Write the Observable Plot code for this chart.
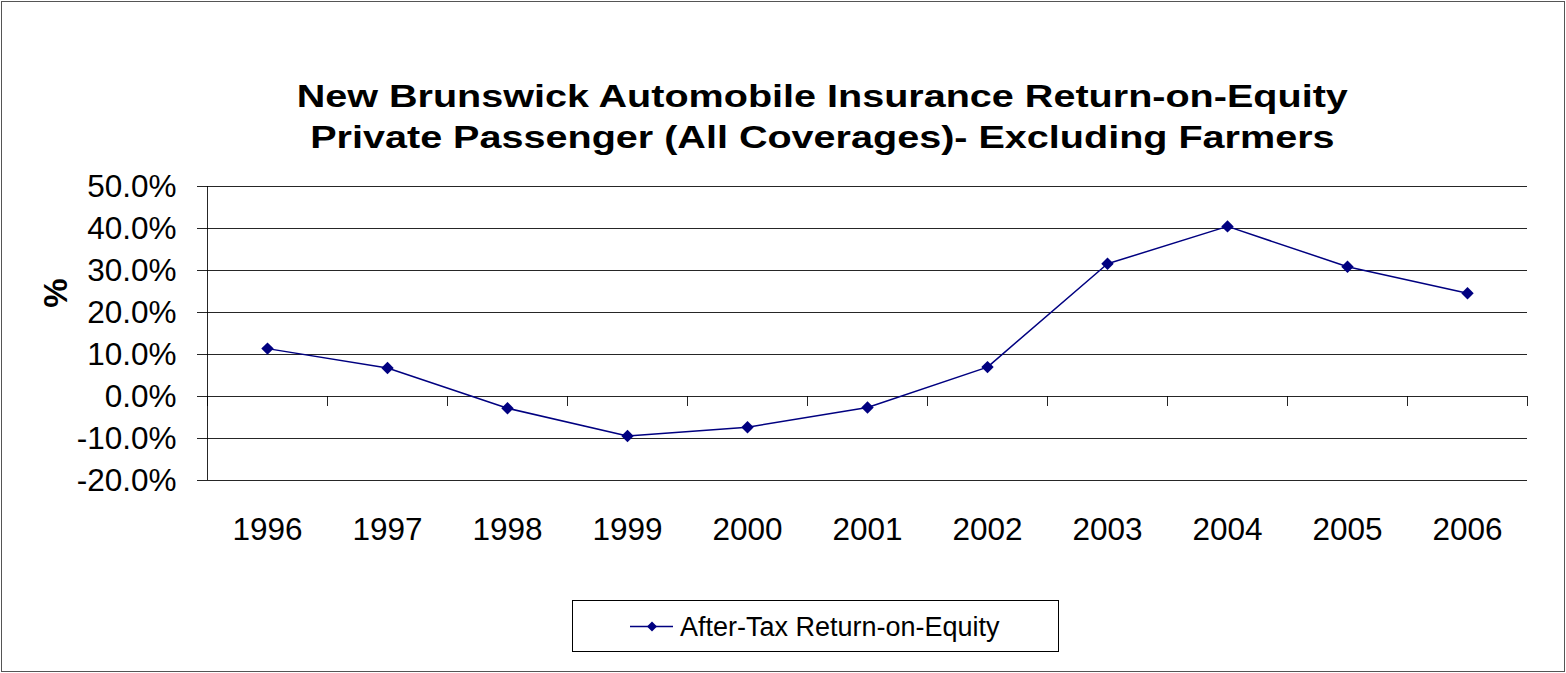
<!DOCTYPE html>
<html>
<head>
<meta charset="utf-8">
<script src="https://cdn.jsdelivr.net/npm/d3@7"></script>
<script src="https://cdn.jsdelivr.net/npm/@observablehq/plot@0.6"></script>
<style>
  html, body { margin: 0; padding: 0; background: #fff; }
  body { width: 1566px; height: 673px; position: relative; overflow: hidden;
         font-family: "Liberation Sans", Arial, Helvetica, sans-serif; }
  #frame { position: absolute; left: 1px; top: 1px; width: 1564px; height: 671px;
           box-sizing: border-box; border: 1px solid #555; pointer-events: none; }
  #chart { position: absolute; left: 0; top: 0; }
  .title { position: absolute; left: 0; width: 1644px; text-align: center;
           font-weight: bold; font-size: 32px; line-height: 32px; color: #000; }
  .title span { display: inline-block; transform: scaleX(1.236); transform-origin: center; white-space: nowrap; }
  #ylabel { position: absolute; left: 55px; top: 293px; font-weight: bold; font-size: 33px;
            line-height: 33px; transform: translate(-50%, -50%) rotate(-90deg); white-space: nowrap; }
  #legend { position: absolute; left: 572px; top: 600px; width: 487px; height: 52px;
            box-sizing: border-box; border: 1px solid #000; background: #fff; }
  #legend svg { position: absolute; left: 0; top: 0; }
  #legend .lt { position: absolute; left: 107px; top: 13px; font-size: 27px; line-height: 27px; white-space: nowrap; color: #000; }
</style>
</head>
<body>
<div id="chart"></div>
<div class="title" style="top:80px"><span id="t1"></span></div>
<div class="title" style="top:121px"><span id="t2"></span></div>
<div id="ylabel"></div>
<div id="legend">
  <svg width="120" height="50"><line x1="57" x2="100" y1="25.5" y2="25.5" stroke="#000080" stroke-width="1.5"></line>
  <path d="M79,20.5 L84,25.5 L79,30.5 L74,25.5 Z" fill="#000080"></path></svg>
  <div class="lt" id="legendText"></div>
</div>
<div id="frame"></div>
<script>
// ---- data ----
const titleLines = [
  "New Brunswick Automobile Insurance Return-on-Equity",
  "Private Passenger (All Coverages)- Excluding Farmers"
];
const yAxisLabel = "%";
const seriesName = "After-Tax Return-on-Equity";
const years = [1996, 1997, 1998, 1999, 2000, 2001, 2002, 2003, 2004, 2005, 2006];
const roe = [11.4, 6.8, -2.8, -9.4, -7.3, -2.6, 7.0, 31.6, 40.5, 30.9, 24.6];
const yTicks = [-20, -10, 0, 10, 20, 30, 40, 50];

// ---- build ----
document.getElementById("t1").textContent = titleLines[0];
document.getElementById("t2").textContent = titleLines[1];
document.getElementById("ylabel").textContent = yAxisLabel;
document.getElementById("legendText").textContent = seriesName;

const data = years.map((y, i) => ({year: y, roe: roe[i]}));
const xMin = years[0] - 0.5, xMax = years[years.length - 1] + 0.5;
const boundaries = years.map(y => y - 0.5).concat([xMax]);

const chart = Plot.plot({
  width: 1566,
  height: 673,
  marginLeft: 207,
  marginRight: 39,
  marginTop: 186,
  marginBottom: 193,
  style: {fontFamily: '"Liberation Sans", Arial, sans-serif', fontSize: "31.5px", color: "#000", background: "transparent", overflow: "visible"},
  x: {type: "linear", domain: [xMin, xMax]},
  y: {domain: [-20, 50]},
  marks: [
    Plot.gridY(yTicks, {stroke: "#000", strokeOpacity: 0.85}),
    Plot.ruleX([xMin], {y1: -20, y2: 50, stroke: "#000", strokeOpacity: 0.85}),
    Plot.ruleX(boundaries, {y1: 0, y2: 0, insetTop: 0, insetBottom: -10, stroke: "#000", strokeOpacity: 0.85}),
    Plot.axisY({ticks: yTicks, tickSize: 10, tickPadding: 21, tickFormat: d => d.toFixed(1) + "%", label: null, stroke: "#000", strokeOpacity: 0.85}),
    Plot.axisX({ticks: years, tickSize: 0, tickPadding: 37, tickFormat: d => String(d), label: null}),
    Plot.line(data, {x: "year", y: "roe", stroke: "#000080", strokeWidth: 1.5}),
    Plot.dot(data, {x: "year", y: "roe", symbol: "diamond2", r: 5.6, fill: "#000080", stroke: "none"})
  ]
});
document.getElementById("chart").appendChild(chart);
</script>
</body>
</html>
